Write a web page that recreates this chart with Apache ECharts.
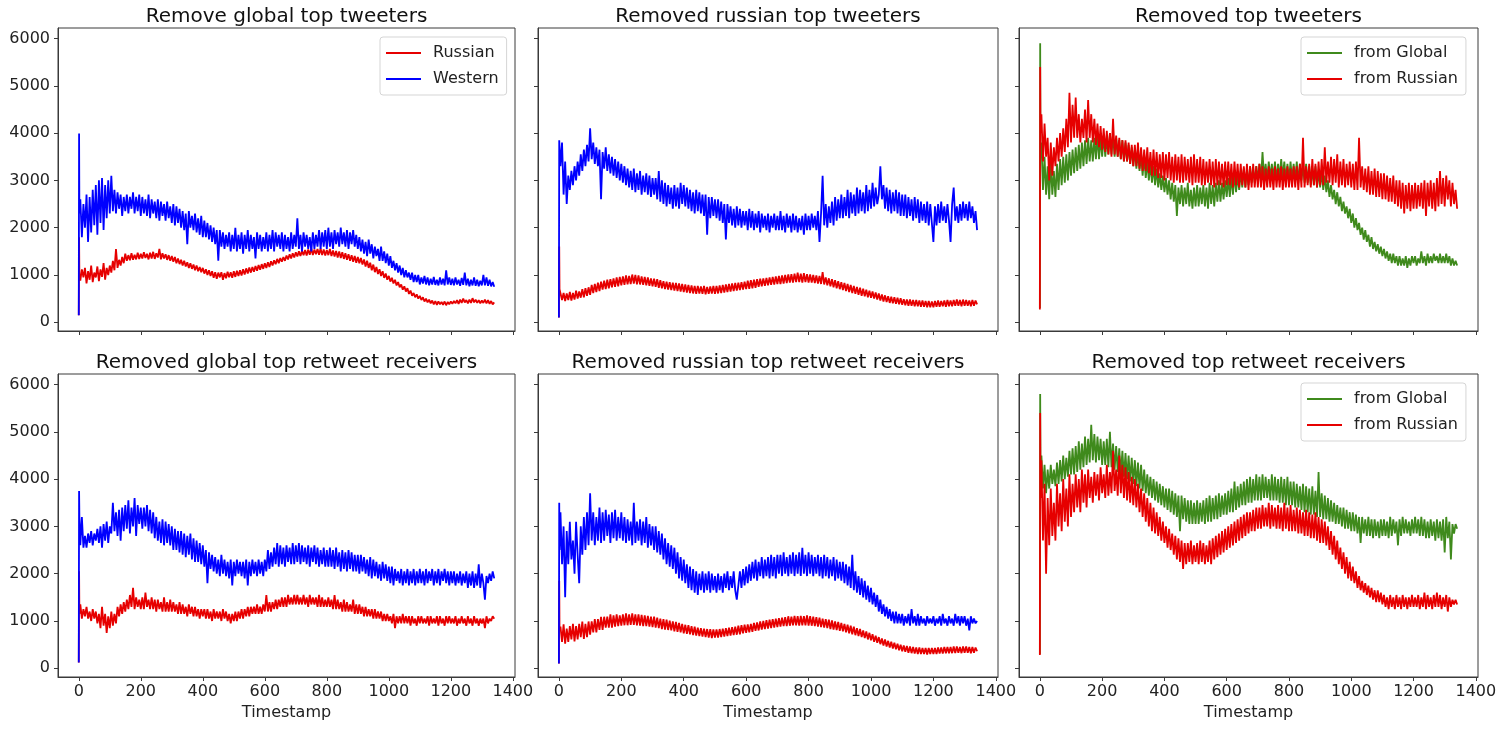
<!DOCTYPE html>
<html>
<head>
<meta charset="utf-8">
<script src="https://cdn.jsdelivr.net/npm/echarts@6/dist/echarts.min.js"></script>
<style>
html,body{margin:0;padding:0;background:#fff;}
#chart{width:1500px;height:730px;}
</style>
</head>
<body>
<div id="chart"></div>
<script>
// Timestamps: 0,1,2 then every 5 up to 1340
var ts = [0, 1, 2];
for (var t = 5; t <= 1340; t += 5) ts.push(t);

var titles = ['Remove global top tweeters', 'Removed russian top tweeters', 'Removed top tweeters',
              'Removed global top retweet receivers', 'Removed russian top retweet receivers', 'Removed top retweet receivers'];
var xTicks = [0, 200, 400, 600, 800, 1000, 1200, 1400];
var yTicks = [0, 1000, 2000, 3000, 4000, 5000, 6000];
var xLabel = 'Timestamp';

// Panel 1: Remove global top tweeters
var p1Russian = [150, 1800, 1000,
 880, 1120, 950, 1150, 820, 1080, 900, 1200, 850, 1050, 950, 1180, 870, 1120, 960, 1250, 900, 1150, 1000, 1200,
 1050, 1300, 1100, 1550, 1150, 1320, 1200, 1380, 1250, 1450, 1300, 1420, 1310, 1460, 1320, 1430, 1330, 1470, 1340, 1450,
 1350, 1480, 1360, 1450, 1330, 1470, 1350, 1490, 1340, 1460, 1370, 1550, 1330, 1460, 1350, 1440, 1320, 1420, 1300, 1400,
 1280, 1380, 1250, 1350, 1230, 1320, 1200, 1300, 1180, 1270, 1150, 1250, 1130, 1220, 1100, 1200, 1080, 1170, 1060, 1150,
 1030, 1120, 1000, 1100, 980, 1080, 940, 1060, 920, 1050, 950, 1060, 900, 1040, 930, 1070, 950, 1060, 940, 1080,
 960, 1090, 980, 1100, 990, 1120, 1010, 1140, 1030, 1160, 1050, 1170, 1070, 1190, 1090, 1210, 1110, 1230, 1130, 1250,
 1150, 1270, 1170, 1290, 1200, 1310, 1230, 1340, 1250, 1360, 1280, 1380, 1300, 1410, 1330, 1440, 1350, 1460, 1370, 1480,
 1390, 1500, 1400, 1510, 1420, 1530, 1410, 1540, 1430, 1560, 1420, 1540, 1440, 1550, 1430, 1560, 1420, 1540, 1410, 1530,
 1420, 1550, 1400, 1520, 1390, 1510, 1370, 1500, 1360, 1480, 1340, 1460, 1320, 1440, 1300, 1420, 1280, 1400, 1260, 1380,
 1250, 1360, 1220, 1330, 1180, 1300, 1150, 1260, 1100, 1220, 1060, 1170, 1020, 1120, 980, 1080, 940, 1030, 900, 980,
 860, 940, 820, 900, 780, 850, 740, 800, 690, 760, 650, 720, 600, 670, 560, 620, 530, 590, 500, 560,
 470, 530, 440, 500, 420, 480, 400, 460, 380, 450, 370, 440, 380, 430, 370, 440, 360, 430, 380, 440,
 390, 450, 400, 470, 390, 480, 410, 500, 420, 470, 400, 480, 410, 510, 420, 480, 410, 470, 400, 460,
 410, 480, 400, 470, 390, 450, 380, 420];
var p1Western = [150, 3990, 2300,
 2600, 1800, 2500, 2000, 2700, 1700, 2650, 1900, 2800, 2050, 2900, 1850, 3000, 2100, 3050, 1950, 2900, 2200, 3000, 2300,
 3100, 2350, 2800, 2300, 2750, 2400, 2700, 2250, 2650, 2350, 2700, 2300, 2650, 2400, 2750, 2300, 2650, 2350, 2700, 2250,
 2650, 2300, 2600, 2250, 2700, 2200, 2600, 2300, 2550, 2200, 2600, 2150, 2550, 2250, 2500, 2150, 2550, 2200, 2450, 2100,
 2500, 2050, 2450, 2100, 2400, 2000, 2350, 1950, 2300, 1650, 2350, 2000, 2250, 1950, 2300, 1900, 2200, 1850, 2250, 1800,
 2150, 1800, 2100, 1750, 2050, 1700, 2000, 1650, 1950, 1300, 1950, 1600, 1900, 1550, 1850, 1600, 1900, 1500, 1850, 1550,
 2000, 1500, 1850, 1550, 1900, 1450, 1850, 1550, 1950, 1500, 1850, 1550, 1800, 1350, 1900, 1550, 1850, 1500, 1800, 1550,
 1900, 1500, 1850, 1550, 1950, 1500, 1900, 1600, 1850, 1550, 1900, 1500, 1850, 1550, 1800, 1500, 1900, 1550, 1850, 1600,
 2200, 1550, 1850, 1500, 1900, 1600, 1850, 1550, 1800, 1500, 1900, 1550, 1850, 1600, 1950, 1550, 1900, 1600, 1950, 1550,
 2000, 1600, 1900, 1550, 1950, 1650, 1900, 1600, 2000, 1650, 1900, 1600, 1950, 1550, 1900, 1650, 1950, 1600, 1850, 1550,
 1800, 1500, 1750, 1450, 1700, 1400, 1750, 1450, 1650, 1350, 1600, 1400, 1550, 1300, 1600, 1300, 1500, 1250, 1450, 1200,
 1400, 1150, 1300, 1100, 1250, 1050, 1200, 1000, 1150, 950, 1100, 950, 1050, 900, 1050, 850, 1000, 850, 1000, 800,
 950, 820, 980, 800, 950, 780, 920, 800, 960, 790, 900, 780, 950, 800, 920, 780, 1100, 800, 950, 790,
 920, 780, 950, 800, 900, 770, 940, 790, 1050, 780, 920, 760, 900, 780, 950, 770, 900, 760, 880, 780,
 1000, 780, 950, 770, 900, 760, 850, 750];

// Panel 2: Removed russian top tweeters
var p2Russian = [100, 1600, 700,
 720, 470, 620, 450, 610, 470, 640, 460, 620, 480, 670, 500, 650, 520, 700, 530, 720, 560, 740, 580,
 790, 620, 810, 640, 840, 660, 860, 690, 880, 700, 900, 720, 910, 740, 930, 750, 950, 760, 960, 780,
 970, 790, 990, 800, 980, 810, 1010, 820, 1000, 800, 990, 800, 970, 790, 960, 780, 950, 770, 930, 760,
 920, 750, 910, 730, 890, 720, 870, 700, 860, 690, 850, 680, 840, 670, 830, 660, 820, 650, 810, 640,
 800, 630, 790, 620, 780, 610, 770, 600, 770, 610, 760, 600, 770, 590, 750, 600, 760, 610, 770, 600,
 770, 610, 780, 620, 790, 630, 800, 640, 810, 650, 820, 660, 830, 670, 840, 680, 850, 690, 860, 700,
 880, 710, 890, 720, 900, 730, 910, 750, 920, 760, 930, 770, 940, 780, 950, 790, 960, 800, 970, 810,
 980, 810, 990, 820, 1000, 830, 1010, 840, 1020, 840, 1030, 850, 1050, 850, 1030, 840, 1040, 850, 1020, 840,
 1010, 840, 1000, 830, 990, 820, 980, 810, 1060, 800, 950, 780, 930, 760, 910, 740, 890, 720, 870, 700,
 850, 680, 830, 660, 810, 640, 790, 620, 770, 600, 750, 580, 730, 560, 710, 550, 690, 530, 670, 520,
 650, 500, 630, 480, 610, 460, 590, 440, 570, 430, 550, 410, 540, 400, 530, 390, 520, 380, 510, 370,
 490, 360, 480, 350, 480, 350, 470, 340, 470, 340, 460, 330, 460, 330, 450, 320, 450, 320, 440, 320,
 450, 330, 460, 330, 450, 340, 460, 330, 470, 340, 460, 340, 470, 350, 480, 350, 470, 340, 480, 350,
 470, 350, 460, 340, 470, 350, 460, 380];
var p2Western = [100, 3850, 3700,
 3300, 3800, 2700, 3400, 2500, 3100, 2800, 3200, 2900, 3300, 3000, 3400, 3100, 3550, 3200, 3650, 3300, 3750, 3400, 4100,
 3450, 3800, 3350, 3700, 3300, 3650, 2600, 3600, 3250, 3700, 3200, 3550, 3150, 3500, 3100, 3450, 3050, 3400, 3000, 3350,
 2950, 3300, 2900, 3250, 2850, 3200, 2800, 3250, 2750, 3150, 2800, 3200, 2700, 3100, 2750, 3150, 2700, 3100, 2650, 3050,
 2700, 3050, 2600, 3200, 2550, 3000, 2500, 2950, 2450, 2900, 2500, 2850, 2400, 2900, 2450, 2850, 2400, 2950, 2500, 2900,
 2450, 2850, 2400, 2800, 2350, 2750, 2300, 2800, 2350, 2750, 2300, 2700, 2250, 2700, 1850, 2650, 2200, 2650, 2250, 2600,
 2200, 2600, 2150, 2550, 2100, 2500, 1750, 2500, 2100, 2450, 2050, 2400, 2000, 2450, 2050, 2400, 2000, 2350, 2050, 2350,
 1950, 2400, 2000, 2350, 1950, 2300, 2000, 2350, 1900, 2300, 2000, 2250, 1950, 2300, 1900, 2250, 2000, 2300, 1950, 2250,
 1950, 2350, 1950, 2250, 1900, 2300, 2000, 2250, 1900, 2300, 1950, 2250, 1900, 2200, 1950, 2250, 1850, 2300, 1950, 2250,
 1950, 2300, 2000, 2250, 1950, 2350, 1700, 2300, 3100, 2050, 2500, 2000, 2450, 2100, 2550, 2050, 2650, 2150, 2600, 2200,
 2700, 2200, 2650, 2250, 2800, 2200, 2750, 2300, 2700, 2250, 2850, 2300, 2800, 2350, 2750, 2300, 2900, 2350, 2800, 2400,
 2950, 2450, 2850, 2500, 2700, 3300, 2600, 2900, 2400, 2850, 2350, 2800, 2300, 2750, 2350, 2800, 2300, 2750, 2250, 2700,
 2250, 2700, 2200, 2650, 2250, 2600, 2150, 2650, 2200, 2600, 2100, 2550, 2150, 2500, 2100, 2550, 2050, 2500, 2100, 1700,
 2450, 2050, 2500, 2100, 2550, 2150, 2450, 2100, 2500, 2150, 1700, 2500, 2850, 2150, 2450, 2100, 2500, 2150, 2550, 2200,
 2500, 2150, 2550, 2200, 2450, 2100, 2350, 1950];

// Panel 3: Removed top tweeters
var p3Global = [300, 5900, 3500,
 3800, 2800, 3500, 2700, 3300, 2600, 3400, 2700, 3200, 2650, 3350, 2800, 3450, 2900, 3500, 2950, 3550, 3000, 3600, 3100,
 3650, 3150, 3700, 3200, 3750, 3250, 3800, 3300, 3850, 3350, 3900, 3400, 3850, 3400, 3900, 3450, 3950, 3450, 3900, 3500,
 3950, 3500, 3900, 3550, 4000, 3550, 3950, 3500, 3900, 3500, 3850, 3450, 3850, 3400, 3800, 3400, 3750, 3350, 3700, 3300,
 3650, 3250, 3600, 3200, 3550, 3100, 3500, 3050, 3400, 3000, 3350, 2950, 3300, 2900, 3250, 2850, 3150, 2800, 3100, 2750,
 3050, 2700, 3000, 2600, 2950, 2550, 2900, 2250, 2850, 2500, 2900, 2450, 2850, 2500, 2950, 2450, 2800, 2400, 2850, 2450,
 2900, 2450, 2850, 2500, 2900, 2450, 2850, 2400, 2950, 2500, 2900, 2450, 2950, 2550, 3000, 2550, 2950, 2600, 3000, 2650,
 3050, 2650, 3100, 2700, 3150, 2750, 3100, 2800, 3200, 2850, 3250, 2850, 3200, 2900, 3300, 2950, 3250, 2950, 3300, 3000,
 3350, 3000, 3600, 3050, 3350, 3000, 3400, 3050, 3350, 3050, 3400, 3000, 3350, 3050, 3450, 3050, 3400, 3000, 3350, 3000,
 3400, 3000, 3350, 3000, 3400, 2950, 3350, 3000, 3300, 2950, 3350, 2950, 3300, 2900, 3250, 2900, 3300, 2850, 3200, 2850,
 3200, 2800, 3100, 2750, 3000, 2650, 2900, 2600, 2800, 2500, 2750, 2450, 2650, 2350, 2550, 2300, 2450, 2200, 2400, 2100,
 2300, 2000, 2200, 1950, 2100, 1850, 2000, 1750, 1950, 1700, 1850, 1600, 1800, 1550, 1700, 1500, 1650, 1450, 1600, 1400,
 1550, 1350, 1500, 1300, 1450, 1250, 1450, 1250, 1400, 1200, 1400, 1200, 1350, 1200, 1400, 1150, 1350, 1200, 1400, 1250,
 1400, 1200, 1350, 1250, 1500, 1250, 1400, 1200, 1450, 1250, 1400, 1250, 1450, 1300, 1400, 1250, 1450, 1250, 1400, 1250,
 1450, 1250, 1400, 1200, 1350, 1200, 1300, 1200];
var p3Russian = [270, 5400, 4000,
 4400, 3400, 4200, 3500, 3900, 3000, 3800, 3100, 3700, 3300, 3900, 3400, 4000, 3500, 4100, 3600, 4300, 3700, 4850, 3800,
 4600, 3900, 4750, 3900, 4400, 3800, 4300, 3900, 4500, 3800, 4700, 3900, 4400, 3800, 4300, 3750, 4200, 3700, 4150, 3650,
 4100, 3600, 4050, 3550, 4000, 3500, 4300, 3550, 3950, 3500, 3900, 3450, 3850, 3400, 3850, 3400, 3800, 3350, 3750, 3300,
 3750, 3300, 3800, 3250, 3700, 3200, 3650, 3200, 3700, 3150, 3600, 3100, 3650, 3100, 3600, 3050, 3550, 3050, 3600, 3000,
 3550, 3050, 3600, 3000, 3500, 2950, 3550, 3000, 3500, 2950, 3550, 2950, 3500, 3000, 3450, 2950, 3500, 2900, 3550, 2950,
 3450, 2950, 3500, 2900, 3450, 2900, 3400, 2950, 3450, 2900, 3400, 2850, 3450, 2900, 3400, 2900, 3350, 2850, 3400, 2900,
 3400, 2900, 3350, 2850, 3400, 2900, 3350, 2850, 3350, 2900, 3300, 2850, 3350, 2800, 3300, 2850, 3350, 2850, 3300, 2850,
 3350, 2850, 3300, 2800, 3250, 2850, 3300, 2850, 3250, 2800, 3300, 2850, 3250, 2850, 3300, 2800, 3250, 2850, 3300, 2850,
 3250, 2850, 3300, 2850, 3300, 2800, 3350, 2850, 3900, 2850, 3300, 2900, 3350, 2850, 3450, 2900, 3350, 2850, 3400, 2900,
 3450, 2900, 3700, 2950, 3400, 2950, 3500, 2900, 3450, 2950, 3550, 2850, 3400, 2900, 3450, 2850, 3350, 2900, 3400, 2850,
 3350, 2800, 3400, 2800, 3900, 2850, 3300, 2800, 3250, 2750, 3300, 2700, 3200, 2700, 3250, 2650, 3200, 2650, 3150, 2600,
 3150, 2600, 3100, 2550, 3050, 2550, 3100, 2500, 3000, 2450, 3000, 2400, 2950, 2300, 2900, 2400, 2950, 2350, 2900, 2400,
 2950, 2400, 2900, 2450, 2950, 2400, 3000, 2250, 2950, 2450, 3000, 2400, 2950, 2350, 3050, 2450, 3200, 2500, 3050, 2450,
 3100, 2600, 3000, 2450, 2950, 2500, 2800, 2400];

// Panel 4: Removed global top retweet receivers
var p4Russian = [120, 2050, 1150,
 1350, 1050, 1250, 1100, 1300, 1050, 1200, 1000, 1250, 1050, 1200, 950, 1150, 850, 1300, 900, 1150, 750, 1100, 850,
 1200, 900, 1150, 950, 1300, 1100, 1350, 1150, 1400, 1200, 1450, 1250, 1550, 1300, 1700, 1250, 1500, 1300, 1450, 1250,
 1500, 1250, 1600, 1300, 1450, 1250, 1500, 1250, 1450, 1200, 1450, 1250, 1400, 1200, 1500, 1200, 1400, 1200, 1450, 1200,
 1400, 1200, 1350, 1150, 1400, 1150, 1350, 1150, 1300, 1100, 1350, 1150, 1300, 1100, 1300, 1100, 1250, 1050, 1250, 1100,
 1250, 1050, 1250, 1050, 1200, 1000, 1250, 1050, 1200, 1050, 1200, 1000, 1250, 1050, 1200, 1000, 1150, 950, 1150, 1000,
 1200, 1000, 1200, 1050, 1250, 1050, 1250, 1100, 1300, 1100, 1300, 1150, 1300, 1150, 1350, 1150, 1300, 1150, 1350, 1200,
 1550, 1200, 1400, 1200, 1400, 1250, 1450, 1250, 1450, 1300, 1500, 1300, 1500, 1300, 1550, 1350, 1500, 1350, 1550, 1350,
 1550, 1350, 1500, 1350, 1550, 1350, 1500, 1300, 1550, 1350, 1500, 1350, 1500, 1300, 1550, 1300, 1500, 1300, 1450, 1300,
 1500, 1300, 1450, 1250, 1550, 1250, 1450, 1250, 1400, 1200, 1450, 1200, 1400, 1200, 1350, 1200, 1450, 1150, 1350, 1150,
 1350, 1150, 1300, 1100, 1300, 1100, 1250, 1100, 1250, 1050, 1250, 1050, 1200, 1050, 1200, 1000, 1150, 1000, 1150, 1000,
 1100, 950, 1150, 850, 1100, 950, 1100, 950, 1150, 950, 1100, 950, 1100, 900, 1100, 950, 1050, 900, 1100, 950,
 1100, 950, 1050, 950, 1100, 900, 1100, 950, 1050, 950, 1100, 900, 1100, 950, 1050, 900, 1100, 950, 1100, 950,
 1050, 950, 1100, 900, 1050, 950, 1100, 950, 1050, 900, 1100, 950, 1050, 900, 1100, 950, 1050, 900, 1050, 950,
 1050, 850, 1100, 950, 1050, 1000, 1100, 1050];
var p4Western = [120, 3750, 3200,
 2600, 3200, 2550, 2800, 2550, 2850, 2650, 2900, 2600, 2850, 2700, 2950, 2650, 3000, 2550, 3050, 2700, 3100, 2650, 3000,
 2850, 3500, 2900, 3300, 2800, 3350, 2700, 3400, 2900, 3450, 2950, 3550, 2850, 3400, 3000, 3600, 2800, 3450, 3050, 3400,
 2950, 3400, 3000, 3450, 2900, 3350, 2850, 3300, 2750, 3200, 2700, 3100, 2650, 3150, 2600, 3100, 2650, 3050, 2600, 3000,
 2500, 2950, 2500, 2900, 2450, 2900, 2400, 2850, 2350, 2800, 2400, 2850, 2300, 2750, 2250, 2700, 2250, 2650, 2200, 2600,
 2150, 2500, 1800, 2450, 2100, 2400, 2050, 2350, 2000, 2300, 1950, 2400, 2000, 2300, 1950, 2250, 1900, 2300, 1750, 2250,
 1950, 2300, 2000, 2250, 1950, 2250, 1900, 2300, 1750, 2250, 1950, 2300, 2000, 2250, 1950, 2300, 2000, 2250, 1950, 2300,
 2050, 2500, 2100, 2450, 2150, 2550, 2200, 2650, 2150, 2600, 2200, 2550, 2150, 2600, 2250, 2550, 2200, 2650, 2200, 2600,
 2250, 2650, 2200, 2600, 2250, 2550, 2200, 2600, 2150, 2550, 2250, 2600, 2200, 2550, 2150, 2500, 2200, 2550, 2150, 2500,
 2150, 2550, 2150, 2500, 2100, 2550, 2150, 2450, 2050, 2500, 2100, 2450, 2050, 2500, 2100, 2450, 2050, 2400, 2050, 2400,
 2000, 2400, 2050, 2350, 2000, 2300, 1950, 2350, 1900, 2300, 1950, 2250, 1900, 2200, 1850, 2250, 1900, 2200, 1850, 2150,
 1800, 2150, 1750, 2100, 1850, 2050, 1800, 2100, 1750, 2050, 1800, 2100, 1750, 2050, 1800, 2100, 1750, 2050, 1800, 2100,
 1800, 2050, 1750, 2100, 1800, 2050, 1850, 2100, 1750, 2050, 1800, 2100, 1750, 2050, 1850, 2100, 1800, 2050, 1750, 2050,
 1800, 2050, 1750, 2000, 1800, 2050, 1750, 2000, 1800, 2050, 1700, 2000, 1750, 2050, 1700, 2000, 1750, 2200, 1700, 2000,
 1800, 1450, 1950, 1800, 2000, 1850, 2050, 1900];

// Panel 5: Removed russian top retweet receivers
var p5Russian = [100, 1850, 800,
 880, 560, 930, 520, 840, 560, 890, 610, 940, 570, 890, 610, 940, 660, 990, 620, 940, 660, 990, 710,
 990, 760, 1040, 760, 1040, 810, 1090, 810, 1090, 860, 1090, 860, 1140, 860, 1120, 880, 1140, 890, 1120, 900,
 1140, 910, 1160, 910, 1140, 920, 1160, 920, 1140, 910, 1140, 900, 1130, 890, 1120, 890, 1110, 880, 1090, 870,
 1090, 860, 1070, 850, 1050, 830, 1040, 820, 1030, 810, 1010, 800, 990, 780, 980, 770, 960, 760, 940, 740,
 920, 730, 910, 720, 890, 700, 880, 690, 860, 680, 850, 670, 840, 660, 830, 650, 830, 640, 820, 650,
 820, 650, 830, 660, 840, 670, 850, 680, 860, 690, 870, 700, 880, 710, 900, 720, 910, 740, 920, 750,
 930, 760, 940, 770, 960, 790, 970, 800, 990, 820, 1000, 830, 1020, 840, 1030, 850, 1040, 860, 1050, 870,
 1060, 880, 1070, 890, 1080, 890, 1100, 900, 1090, 910, 1110, 910, 1100, 900, 1110, 910, 1100, 910, 1120, 900,
 1100, 900, 1090, 890, 1080, 880, 1070, 870, 1050, 860, 1040, 850, 1030, 830, 1010, 820, 990, 810, 980, 790,
 960, 780, 940, 760, 920, 740, 900, 720, 880, 700, 850, 680, 830, 660, 800, 640, 780, 610, 750, 590,
 720, 560, 690, 540, 660, 510, 630, 480, 610, 460, 580, 440, 560, 420, 540, 400, 520, 380, 500, 360,
 480, 350, 470, 330, 460, 320, 450, 310, 440, 300, 440, 300, 430, 300, 430, 290, 430, 300, 430, 300,
 430, 300, 440, 310, 440, 310, 450, 320, 450, 320, 450, 320, 460, 320, 460, 330, 450, 320, 460, 330,
 460, 330, 450, 320, 450, 330, 440, 360];
var p5Western = [100, 3500, 2500,
 3300, 2200, 3000, 1500, 2900, 2200, 3100, 2300, 2700, 2000, 3100, 2400, 1800, 3000, 2400, 3200, 2500, 3300, 2600, 3700,
 2700, 3300, 2600, 3200, 2700, 3400, 2650, 3300, 2700, 3350, 2800, 3250, 2650, 3300, 2750, 3350, 2700, 3200, 2750, 3300,
 2700, 3200, 2650, 3150, 2700, 3100, 2600, 3500, 2650, 3100, 2700, 3150, 2600, 3100, 2650, 3200, 2550, 3050, 2600, 3000,
 2500, 3000, 2450, 2900, 2400, 2850, 2300, 2750, 2200, 2650, 2150, 2600, 2100, 2550, 2000, 2450, 1900, 2350, 1850, 2300,
 1800, 2200, 1700, 2150, 1650, 2100, 1600, 2050, 1550, 2000, 1650, 2050, 1600, 2000, 1650, 2050, 1600, 2000, 1650, 1950,
 1600, 2000, 1650, 1950, 1600, 2000, 1700, 2050, 1650, 1950, 1700, 2050, 1650, 1450, 1750, 2050, 1700, 2100, 1750, 2150,
 1800, 2200, 1850, 2250, 1900, 2300, 1850, 2250, 1950, 2350, 1900, 2300, 1950, 2350, 1900, 2400, 1950, 2350, 1900, 2400,
 2000, 2400, 1950, 2450, 2000, 2350, 1950, 2400, 2000, 2450, 1950, 2400, 2000, 2450, 1950, 2550, 2000, 2400, 1950, 2450,
 2000, 2400, 1950, 2350, 2000, 2400, 1950, 2350, 1900, 2400, 1950, 2350, 1900, 2300, 1950, 2350, 1850, 2300, 1900, 2250,
 1850, 2250, 1800, 2200, 1750, 2150, 1700, 2400, 1650, 2050, 1600, 1950, 1550, 1900, 1500, 1850, 1450, 1750, 1400, 1700,
 1350, 1600, 1300, 1550, 1200, 1450, 1150, 1350, 1100, 1300, 1050, 1250, 1000, 1200, 950, 1200, 950, 1150, 950, 1150,
 900, 1100, 950, 1150, 900, 1250, 950, 1100, 900, 1150, 900, 1100, 950, 1050, 900, 1100, 950, 1050, 950, 1100,
 900, 1050, 950, 1100, 900, 1150, 950, 1050, 900, 1100, 950, 1050, 900, 1150, 950, 1100, 900, 1100, 950, 1100,
 900, 1050, 800, 1100, 950, 1050, 950, 1000];

// Panel 6: Removed top retweet receivers
var p6Global = [300, 5800, 4400,
 4500, 3800, 4300, 3700, 4200, 3800, 4300, 3900, 4200, 3850, 4350, 3900, 4400, 3950, 4500, 4000, 4450, 4050, 4600, 4100,
 4650, 4100, 4700, 4150, 4800, 4200, 4750, 4250, 4900, 4300, 4850, 4350, 5150, 4400, 4950, 4350, 4900, 4400, 4850, 4300,
 4800, 4300, 4850, 4250, 5000, 4250, 4750, 4200, 4700, 4150, 4650, 4100, 4600, 4050, 4550, 4000, 4500, 3950, 4450, 3900,
 4400, 3850, 4350, 3800, 4300, 3750, 4200, 3700, 4100, 3650, 4050, 3600, 4000, 3550, 3950, 3500, 3900, 3450, 3850, 3400,
 3800, 3350, 3800, 3300, 3750, 3250, 3700, 3200, 3650, 2900, 3650, 3150, 3600, 3100, 3550, 3050, 3550, 3050, 3500, 3050,
 3550, 3050, 3500, 3100, 3550, 3050, 3600, 3100, 3650, 3100, 3600, 3150, 3650, 3150, 3700, 3200, 3650, 3250, 3700, 3250,
 3750, 3300, 3800, 3300, 3950, 3350, 3850, 3400, 3900, 3450, 3950, 3450, 4000, 3500, 4050, 3500, 4000, 3550, 4100, 3550,
 4050, 3550, 4100, 3600, 4050, 3600, 4000, 3550, 4100, 3550, 4050, 3550, 4000, 3500, 4050, 3500, 4000, 3450, 4050, 3450,
 3950, 3450, 3950, 3400, 3900, 3400, 3850, 3350, 3900, 3300, 3850, 3300, 3800, 3250, 3850, 3250, 3750, 3200, 4150, 3200,
 3700, 3150, 3650, 3150, 3600, 3100, 3550, 3100, 3500, 3050, 3450, 3050, 3400, 3000, 3400, 2950, 3350, 2950, 3300, 2900,
 3300, 2900, 3250, 2850, 3200, 2650, 3200, 2850, 3150, 2800, 3200, 2800, 3150, 2750, 3150, 2800, 3100, 2750, 3150, 2800,
 3150, 2800, 3100, 2750, 3200, 2800, 3150, 2850, 3100, 2600, 3150, 2800, 3200, 2850, 3150, 2850, 3100, 2800, 3150, 2850,
 3200, 2850, 3150, 2800, 3200, 2800, 3150, 2750, 3100, 2750, 3150, 2800, 3100, 2700, 3150, 2750, 3100, 2700, 3150, 2450,
 3200, 2750, 3100, 2300, 3050, 2850, 3050, 2950];
var p6Russian = [280, 5400, 3600,
 4400, 2700, 3900, 2000, 3600, 2600, 3800, 2800, 3500, 2700, 3900, 3000, 3700, 2900, 4000, 3100, 3800, 3000, 4100, 3200,
 3900, 3300, 4100, 3400, 4000, 3300, 4200, 3500, 4100, 3400, 4200, 3600, 4050, 3500, 4150, 3650, 4100, 3550, 4250, 3700,
 4100, 3600, 4300, 3650, 4150, 3700, 4600, 3750, 4200, 3650, 4500, 3700, 4300, 3600, 4250, 3550, 4150, 3500, 4050, 3450,
 4000, 3400, 3900, 3300, 3800, 3200, 3700, 3100, 3600, 3000, 3500, 2900, 3400, 2850, 3300, 2800, 3200, 2700, 3100, 2650,
 3000, 2550, 2950, 2500, 2850, 2400, 2800, 2300, 2750, 2250, 2700, 2100, 2650, 2200, 2650, 2250, 2700, 2200, 2600, 2250,
 2650, 2200, 2700, 2250, 2650, 2200, 2600, 2250, 2700, 2200, 2750, 2300, 2800, 2350, 2850, 2400, 2900, 2450, 2950, 2500,
 3000, 2550, 3050, 2600, 3100, 2650, 3150, 2700, 3200, 2750, 3250, 2800, 3300, 2850, 3300, 2900, 3350, 2900, 3400, 2950,
 3400, 2950, 3450, 3000, 3400, 3000, 3500, 2950, 3450, 3000, 3400, 2950, 3450, 2950, 3400, 2900, 3500, 2950, 3400, 2900,
 3450, 2900, 3350, 2900, 3400, 2850, 3350, 2850, 3300, 2800, 3350, 2800, 3300, 2750, 3250, 2750, 3300, 2700, 3200, 2650,
 3150, 2650, 3100, 2600, 3000, 2500, 2900, 2400, 2800, 2300, 2700, 2200, 2550, 2100, 2450, 2000, 2350, 1900, 2250, 1850,
 2150, 1800, 2050, 1700, 1950, 1650, 1850, 1600, 1800, 1550, 1750, 1500, 1700, 1450, 1650, 1400, 1650, 1400, 1600, 1350,
 1550, 1300, 1500, 1250, 1550, 1300, 1500, 1250, 1550, 1300, 1500, 1250, 1550, 1300, 1500, 1250, 1500, 1300, 1550, 1300,
 1500, 1300, 1550, 1250, 1500, 1300, 1600, 1250, 1550, 1300, 1500, 1250, 1550, 1300, 1600, 1300, 1550, 1250, 1500, 1300,
 1550, 1200, 1500, 1300, 1450, 1350, 1450, 1350];

var RED = '#e60000', BLUE = '#0000ff', GREEN = '#3f8a1c';
var panels = [
  [['Russian', p1Russian, RED], ['Western', p1Western, BLUE]],
  [['Russian', p2Russian, RED], ['Western', p2Western, BLUE]],
  [['from Global', p3Global, GREEN], ['from Russian', p3Russian, RED]],
  [['Russian', p4Russian, RED], ['Western', p4Western, BLUE]],
  [['Russian', p5Russian, RED], ['Western', p5Western, BLUE]],
  [['from Global', p6Global, GREEN], ['from Russian', p6Russian, RED]]
];

var FONT = 'DejaVu Sans';
var colLeft = [58, 538, 1019], colW = [457, 460, 459];
var rowTop = [28, 374], rowH = 303;
var grids = [], xAxes = [], yAxes = [], series = [], titleArr = [], warn = [];
function plain(v) { return String(v); }
for (var i = 0; i < 6; i++) {
  var r = Math.floor(i / 3), c = i % 3;
  grids.push({left: colLeft[c], top: rowTop[r], width: colW[c], height: rowH,
    show: true, borderColor: '#3a3a3a', borderWidth: 1, backgroundColor: '#fff'});
  xAxes.push({type: 'value', gridIndex: i, min: -67, max: 1407,
    axisLine: {show: true, onZero: false, lineStyle: {color: '#3a3a3a', width: 1}},
    axisTick: {show: true, length: 4, customValues: xTicks, lineStyle: {color: '#3a3a3a'}},
    axisLabel: {show: r === 1, customValues: xTicks, formatter: plain, margin: 7, fontSize: 16, fontFamily: FONT, color: '#222'},
    splitLine: {show: false},
    name: r === 1 ? xLabel : '', nameLocation: 'middle', nameGap: 28,
    nameTextStyle: {fontSize: 16, fontFamily: FONT, color: '#222'}});
  yAxes.push({type: 'value', gridIndex: i, min: -184, max: 6222,
    axisLine: {show: true, onZero: false, lineStyle: {color: '#3a3a3a', width: 1}},
    axisTick: {show: true, length: 4, customValues: yTicks, lineStyle: {color: '#3a3a3a'}},
    axisLabel: {show: c === 0, customValues: yTicks, formatter: plain, margin: 8, fontSize: 16, fontFamily: FONT, color: '#222'},
    splitLine: {show: false}});
  titleArr.push({text: titles[i], left: colLeft[c] + colW[c] / 2, textAlign: 'center',
    top: rowTop[r] - 21, padding: 0,
    textStyle: {fontSize: 20, fontWeight: 'normal', fontFamily: FONT, color: '#111'}});
  panels[i].forEach(function (sd) {
    if (sd[1].length !== ts.length) warn.push(sd[0] + ' p' + (i + 1) + ': ' + sd[1].length);
    var data = ts.map(function (t, k) { return [t, sd[1][k]]; });
    series.push({type: 'line', name: sd[0], xAxisIndex: i, yAxisIndex: i, data: data,
      showSymbol: false, symbol: 'none', color: sd[2], sampling: null,
      lineStyle: {color: sd[2], width: 1.8}, animation: false});
  });
}
if (warn.length) titleArr.push({text: 'LEN ' + warn.join(' | '), left: 'center', top: 300, textStyle: {color: '#f0f', fontSize: 14}});

function legendAt(left, top, names) {
  return {left: left, top: top, orient: 'vertical', data: names, icon: 'rect',
    itemWidth: 35, itemHeight: 2, itemGap: 8, padding: [7, 8, 7, 6],
    borderColor: '#d5d5d5', borderWidth: 1, borderRadius: 3,
    backgroundColor: 'rgba(255,255,255,0.85)', selectedMode: false,
    textStyle: {fontSize: 16, fontFamily: FONT, color: '#222', lineHeight: 18, padding: [0, 0, 0, 7]}};
}

var chart = echarts.init(document.getElementById('chart'), null, {renderer: 'canvas'});
chart.setOption({
  animation: false,
  backgroundColor: '#fff',
  title: titleArr,
  grid: grids,
  xAxis: xAxes,
  yAxis: yAxes,
  legend: [legendAt(380, 37, ['Russian', 'Western']),
           legendAt(1301, 37, ['from Global', 'from Russian']),
           legendAt(1301, 383, ['from Global', 'from Russian'])],
  series: series
});
</script>
</body>
</html>
